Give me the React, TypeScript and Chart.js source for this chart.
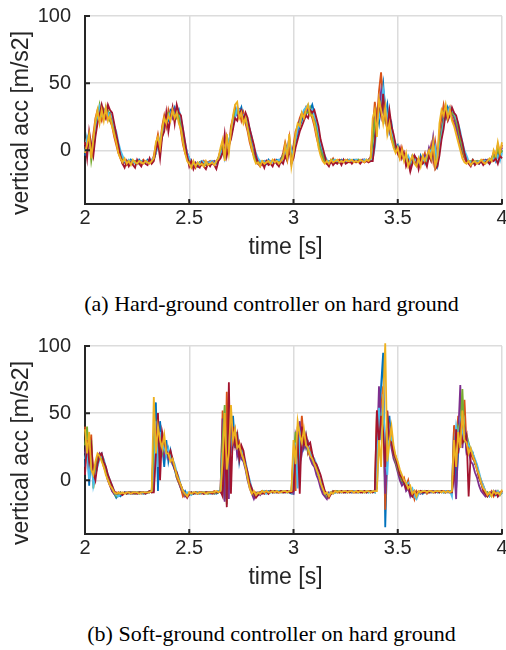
import React, { useEffect, useRef } from "react";
import { Chart, registerables } from "chart.js";

Chart.register(...registerables);

// ---------- axes ----------
const X_TICKS = [2, 2.5, 3, 3.5, 4];
const Y_TICKS = [0, 50, 100];
const X_MIN = 2;
const X_MAX = 4;
const Y_MIN = -40;
const Y_MAX = 100;
const SAMPLE_COUNT = 201; // 2.00 s ... 4.00 s every 10 ms
const TIME = Array.from({ length: SAMPLE_COUNT }, (_, i) => Math.round(200 + i) / 100);

const X_LABEL = "time [s]";
const Y_LABEL = "vertical acc [m/s2]";
const CAPTION_A = "(a) Hard-ground controller on hard ground";
const CAPTION_B = "(b) Soft-ground controller on hard ground";

// MATLAB default colour order (drawn back to front)
const SERIES_NAMES = ["blue", "orange", "purple", "green", "lightblue", "red", "yellow"];
const SERIES_COLORS = ["#0072BD", "#D95319", "#7E2F8E", "#77AC30", "#4DBEEE", "#A2142F", "#EDB120"];

// ---------- (a) hard-ground controller ----------
const HARD_BLUE = [
  -4, 6, 10, 2, 0, 14, 24, 28, 30, 26,
  32, 26, 28, 24, 16, 10, 4, -2, -6, -9,
  -8, -10, -7, -9, -8, -10, -7, -9, -8, -9,
  -7, -9, -8, -6, -2, 6, 2, 10, 18, 24,
  22, 30, 28, 32, 26, 30, 22, 12, 4, -2,
  -6, -9, -11, -10, -12, -9, -8, -11, -10, -9,
  -11, -8, -9, -10, -7, -4, 0, -6, 4, 6,
  10, 18, 26, 30, 28, 32, 24, 26, 20, 14,
  8, 0, -4, -8, -10, -9, -8, -10, -7, -9,
  -8, -9, -7, -8, -9, -5, 0, -4, 4, -6,
  -2, 6, 12, 18, 22, 28, 26, 32, 30, 34,
  28, 20, 10, 2, -2, -6, -8, -10, -7, -8,
  -8, -9, -8, -7, -8, -9, -7, -8, -8, -7,
  -8, -7, -8, -8, -7, -8, -7, -8, -6, 10,
  28, 20, 40, 50, 26, 34, 14, 20, 8, 2,
  4, -2, 0, -6, -4, -8, -10, -4, -6, -10,
  -12, -4, -8, -6, -9, 0, -4, 2, -8, -12,
  2, 12, 28, 24, 32, 28, 30, 26, 22, 16,
  10, 4, -2, -6, -9, -10, -7, -9, -8, -10,
  -8, -9, -7, -8, -10, -6, -4, -8, -2, -6,
  0,
];
const HARD_ORANGE = [
  4, 10, 6, 0, 12, 24, 30, 26, 22, 30,
  24, 28, 22, 18, 10, 4, -2, -6, -10, -8,
  -11, -9, -8, -10, -9, -8, -10, -9, -7, -9,
  -8, -7, -9, -4, 4, 12, 4, 18, 26, 18,
  30, 24, 28, 22, 30, 24, 14, 4, -2, -6,
  -10, -12, -9, -13, -10, -9, -11, -8, -10, -9,
  -8, -10, -8, -9, -5, 0, 6, -2, 10, 2,
  18, 24, 32, 28, 30, 22, 28, 20, 14, 6,
  0, -4, -8, -10, -9, -11, -8, -9, -10, -8,
  -9, -7, -10, -8, -7, -2, 6, 0, 10, -4,
  4, 14, 18, 24, 28, 26, 32, 30, 28, 24,
  18, 10, 4, -2, -6, -9, -10, -8, -9, -6,
  -9, -8, -7, -8, -9, -8, -7, -9, -8, -8,
  -7, -8, -9, -7, -8, -8, -7, -5, 16, 36,
  22, 44, 58, 36, 28, 14, 24, 10, 4, 0,
  -2, -6, 2, -4, -10, -6, -14, -8, -4, -10,
  -8, -10, -6, -2, -10, -4, 4, -8, 6, -6,
  14, 24, 34, 26, 28, 32, 24, 20, 16, 10,
  4, -2, -6, -9, -8, -10, -7, -9, -8, -8,
  -9, -7, -8, -9, -7, -8, -2, -6, 2, -4,
  4,
];
const HARD_PURPLE = [
  2, 4, 8, -4, 4, 18, 26, 24, 28, 24,
  28, 24, 26, 20, 14, 8, 0, -4, -8, -9,
  -8, -9, -10, -8, -9, -8, -9, -8, -9, -8,
  -9, -8, -7, -6, 0, 8, 4, 12, 20, 22,
  26, 28, 24, 30, 26, 26, 20, 10, 2, -4,
  -8, -10, -12, -9, -11, -10, -9, -10, -11, -9,
  -9, -10, -8, -9, -7, -4, 2, -3, 6, 2,
  12, 20, 28, 26, 30, 26, 26, 22, 16, 10,
  4, -2, -6, -8, -9, -9, -8, -9, -8, -9,
  -8, -8, -9, -8, -6, -4, 2, -2, 6, -6,
  2, 10, 14, 22, 24, 26, 28, 30, 30, 26,
  22, 14, 6, 0, -4, -7, -9, -8, -8, -7,
  -8, -8, -8, -8, -8, -8, -8, -8, -8, -8,
  -8, -8, -8, -7, -7, -8, -7, -6, 12, 24,
  18, 30, 44, 28, 24, 18, 16, 8, 4, 0,
  0, -4, -2, -6, -6, -8, -12, -6, -4, -8,
  -10, -6, -8, -4, -6, 2, -2, 10, -4, -8,
  6, 16, 24, 28, 28, 26, 28, 24, 18, 12,
  6, 0, -4, -8, -8, -9, -8, -8, -9, -8,
  -8, -8, -8, -7, -8, -6, -2, -4, 4, -2,
  2,
];
const HARD_GREEN = [
  0, 2, 10, -8, 2, 16, 24, 34, 26, 30,
  26, 30, 22, 22, 16, 8, 2, -2, -7, -8,
  -9, -8, -9, -9, -8, -9, -9, -8, -9, -9,
  -8, -8, -9, -7, -2, 8, 6, 12, 22, 26,
  28, 26, 26, 28, 24, 28, 18, 8, 0, -6,
  -9, -11, -10, -12, -10, -9, -10, -9, -11, -10,
  -10, -9, -10, -9, -6, -2, 4, -4, 6, 4,
  14, 22, 30, 28, 26, 26, 24, 22, 18, 10,
  2, -4, -8, -9, -9, -8, -9, -8, -9, -9,
  -8, -9, -8, -8, -7, -4, 0, -2, 6, -8,
  0, 10, 18, 20, 26, 24, 28, 28, 32, 26,
  22, 16, 6, 0, -4, -8, -9, -8, -9, -7,
  -8, -8, -9, -8, -8, -8, -8, -7, -8, -8,
  -8, -7, -8, -8, -8, -7, -8, -7, 8, 22,
  26, 28, 36, 40, 22, 26, 18, 14, 6, 2,
  -2, -2, -4, -4, -6, -6, -10, -8, -6, -6,
  -8, -8, -6, -6, -8, -2, 0, 4, -6, -10,
  4, 14, 22, 28, 26, 28, 28, 26, 22, 16,
  8, 2, -4, -7, -9, -8, -9, -9, -8, -8,
  -8, -9, -8, -8, -8, -6, -4, -6, 2, -4,
  0,
];
const HARD_LIGHTBLUE = [
  -2, 10, 4, 2, 8, 16, 22, 32, 26, 28,
  30, 28, 24, 26, 18, 14, 6, 0, -4, -8,
  -9, -7, -9, -8, -10, -8, -9, -8, -8, -9,
  -8, -9, -7, -6, -2, 4, 8, 14, 16, 26,
  24, 28, 30, 26, 28, 30, 24, 16, 6, -2,
  -6, -8, -10, -11, -9, -10, -8, -9, -10, -9,
  -9, -8, -10, -8, -6, -2, 0, -4, 2, 8,
  12, 20, 24, 32, 30, 28, 26, 24, 22, 16,
  10, 2, -2, -6, -8, -9, -8, -9, -8, -8,
  -9, -8, -8, -7, -8, -6, -2, 2, 8, 0,
  -4, 8, 16, 20, 26, 30, 32, 34, 30, 30,
  26, 22, 14, 6, 0, -4, -7, -9, -8, -8,
  -7, -8, -9, -8, -7, -8, -8, -7, -8, -8,
  -7, -8, -8, -8, -7, -7, -8, -7, -6, 2,
  20, 24, 32, 46, 36, 24, 20, 14, 10, 4,
  2, 0, -2, -4, -8, -4, -8, -10, -6, -8,
  -10, -8, -6, -10, -4, -2, 0, -6, 2, -10,
  0, 10, 20, 26, 28, 32, 30, 28, 24, 20,
  14, 6, 0, -4, -8, -9, -10, -8, -9, -8,
  -9, -8, -8, -9, -9, -7, -6, -8, -4, -8,
  -2,
];
const HARD_RED = [
  6, -6, 14, 4, -4, 10, 20, 26, 34, 28,
  24, 34, 30, 28, 20, 12, 4, -4, -10, -13,
  -8, -12, -9, -11, -13, -7, -10, -12, -8, -10,
  -11, -6, -10, -8, 0, 6, -6, 10, 14, 28,
  14, 24, 32, 20, 34, 28, 26, 16, 6, -4,
  -12, -8, -14, -10, -12, -13, -9, -12, -14, -10,
  -12, -9, -11, -14, -8, -6, -2, 12, -4, 4,
  8, 16, 24, 22, 28, 30, 22, 28, 24, 16,
  10, 4, -4, -10, -12, -9, -13, -8, -11, -10,
  -12, -8, -10, -12, -8, -10, -4, -8, 2, -10,
  -6, 2, 8, 14, 18, 22, 26, 24, 30, 28,
  30, 24, 18, 8, 2, -4, -10, -12, -8, -11,
  -9, -10, -8, -11, -7, -10, -9, -8, -10, -8,
  -9, -8, -10, -8, -9, -8, -9, -8, -8, 6,
  24, 36, 26, 42, 24, 16, 30, 18, 12, 4,
  -2, 2, -6, -2, -12, -8, -16, -10, -4, -6,
  -14, -6, -10, -8, -12, -4, -8, 0, -14, -12,
  -4, 8, 16, 28, 22, 26, 32, 28, 26, 20,
  12, 6, -2, -8, -10, -12, -8, -11, -9, -10,
  -8, -11, -9, -8, -10, -7, -8, -6, -10, -4,
  -6,
];
const HARD_YELLOW = [
  -2, 4, 12, -6, 8, 22, 30, 20, 30, 22,
  32, 22, 26, 18, 12, 6, -2, -6, -9, -6,
  -10, -8, -11, -7, -9, -10, -8, -9, -10, -8,
  -9, -10, -8, -6, 6, 10, 2, 16, 24, 20,
  26, 22, 30, 24, 28, 20, 16, 6, -2, -8,
  -10, -13, -8, -12, -9, -11, -10, -12, -8, -11,
  -10, -9, -11, -8, -6, 2, 8, -8, 12, -2,
  14, 26, 34, 36, 24, 28, 20, 24, 16, 8,
  2, -6, -10, -9, -12, -8, -10, -9, -8, -10,
  -7, -9, -8, -10, -8, -6, 4, -6, 12, -12,
  -2, 12, 20, 18, 28, 24, 30, 34, 26, 26,
  20, 12, 2, -4, -8, -10, -8, -10, -7, -9,
  -8, -7, -9, -8, -9, -7, -8, -8, -7, -9,
  -8, -9, -7, -8, -9, -7, -8, -6, 24, 30,
  10, 38, 30, 20, 32, 12, 20, 8, 2, -2,
  2, -6, 0, -8, -2, -12, -8, -4, -10, -12,
  -6, -12, -4, -8, -4, 0, -6, 6, -12, -6,
  20, 30, 26, 34, 24, 30, 22, 18, 12, 6,
  0, -6, -9, -10, -8, -11, -9, -8, -10, -9,
  -7, -9, -10, -8, -6, -8, 0, -4, 6, -2,
  6,
];

// ---------- (b) soft-ground controller ----------
const SOFT_BLUE = [
  10, 36, -4, 22, 2, 4, 12, 18, 20, 14,
  8, 2, -2, -6, -10, -13, -11, -12, -10, -9,
  -10, -9, -10, -9, -10, -9, -10, -9, -9, -10,
  -9, -9, -8, 30, 58, -8, 44, 26, 10, 30,
  14, 22, 12, 8, 2, -2, -6, -10, -8, -11,
  -10, -9, -10, -9, -9, -10, -9, -10, -9, -9,
  -10, -9, -9, -10, -9, -8, 10, -14, 40, 20,
  30, 48, 24, 36, 14, 24, 16, 10, 4, -4,
  -8, -12, -10, -11, -9, -8, -10, -9, -8, -9,
  -8, -9, -9, -8, -9, -9, -8, -9, -9, -10,
  -10, 20, 32, 6, 36, 24, 30, 20, 22, 14,
  12, 6, 4, -2, -8, -10, -13, -10, -10, -8,
  -9, -8, -9, -9, -8, -9, -9, -8, -9, -8,
  -9, -9, -8, -9, -8, -9, -9, -8, -9, -8,
  -6, 36, 70, 95, -35, 20, 48, 26, 22, 14,
  8, 4, -2, 0, -6, -4, -8, -12, -10, -9,
  -9, -8, -10, -8, -9, -9, -8, -9, -8, -9,
  -9, -8, -9, -9, -8, -8, -8, 40, -6, 20,
  34, 30, 38, 22, 26, 18, 20, 12, 10, 4,
  -2, -6, -10, -12, -9, -10, -8, -11, -9, -10,
  -9,
];
const SOFT_ORANGE = [
  40, 30, 20, 34, -2, 10, 18, 20, 16, 10,
  6, 0, -4, -8, -10, -9, -11, -9, -10, -9,
  -9, -10, -9, -9, -10, -9, -9, -10, -9, -9,
  -9, -8, -9, -8, 36, 20, 30, 34, 24, 20,
  22, 18, 14, 10, 2, -2, -6, -12, -10, -12,
  -9, -10, -9, -10, -9, -9, -10, -9, -9, -10,
  -9, -9, -8, -9, -8, -9, 52, -8, 66, 10,
  40, 30, 34, 22, 28, 20, 18, 10, 4, -4,
  -8, -12, -9, -10, -9, -8, -10, -9, -9, -8,
  -9, -8, -9, -9, -8, -9, -8, -8, -9, -8,
  20, -8, 40, 26, 48, 30, 32, 20, 24, 18,
  14, 10, 6, 0, -6, -10, -12, -10, -9, -8,
  -9, -8, -9, -8, -9, -8, -9, -8, -9, -9,
  -8, -9, -8, -9, -8, -9, -8, -9, -8, -8,
  52, 40, 54, 70, -22, 26, 40, 34, 22, 18,
  12, 6, 0, 2, -4, 0, -10, -8, -14, -8,
  -10, -8, -9, -8, -10, -8, -9, -8, -9, -8,
  -8, -9, -8, -9, -8, -8, -9, 41, 30, 48,
  34, 40, 60, 26, 24, 22, 16, 14, 10, 4,
  0, -4, -8, -12, -10, -8, -12, -9, -11, -10,
  -8,
];
const SOFT_PURPLE = [
  20, 28, 4, 14, 0, 6, 14, 20, 18, 12,
  6, 0, -4, -8, -10, -11, -10, -9, -10, -9,
  -9, -9, -10, -9, -9, -10, -9, -9, -10, -9,
  -9, -9, -8, 12, 30, 36, 20, 28, 18, 24,
  16, 18, 12, 10, 4, 0, -6, -8, -12, -10,
  -11, -9, -10, -9, -10, -9, -9, -10, -9, -9,
  -9, -9, -10, -9, -8, -8, 46, -16, 30, -14,
  50, 26, 36, 18, 24, 16, 14, 8, 0, -6,
  -10, -14, -10, -9, -11, -9, -8, -9, -10, -8,
  -9, -9, -8, -9, -8, -8, -9, -8, -8, -9,
  -10, 34, 28, 44, 20, 30, 24, 28, 16, 12,
  10, 4, 0, -6, -10, -12, -14, -9, -10, -9,
  -8, -9, -8, -9, -9, -8, -9, -8, -9, -8,
  -9, -8, -9, -8, -9, -9, -8, -9, -8, -8,
  20, 70, 40, 60, -10, 20, 36, 24, 16, 12,
  6, 0, -4, -2, -8, -6, -12, -8, -10, -9,
  -9, -10, -8, -9, -8, -9, -9, -8, -9, -8,
  -9, -8, -9, -8, -9, -9, -8, 10, -14, 34,
  71, 24, 40, 20, 22, 14, 12, 6, 2, -4,
  -8, -10, -12, -9, -11, -9, -10, -8, -12, -9,
  -10,
];
const SOFT_GREEN = [
  26, 40, 8, 30, -6, 6, 14, 18, 16, 12,
  6, 2, -2, -6, -9, -12, -10, -9, -10, -9,
  -10, -9, -9, -9, -10, -9, -9, -9, -10, -9,
  -9, -9, -8, 24, 40, 26, 32, 20, 26, 22,
  18, 20, 14, 10, 4, 0, -4, -8, -11, -10,
  -10, -9, -10, -9, -9, -10, -9, -9, -9, -10,
  -9, -9, -10, -9, -9, -8, 30, 56, -18, 40,
  24, 34, 30, 26, 22, 20, 16, 10, 2, -4,
  -8, -11, -10, -10, -9, -9, -8, -9, -9, -8,
  -9, -9, -8, -9, -8, -9, -8, -9, -8, -9,
  16, 36, 20, 30, 34, 28, 30, 22, 20, 16,
  14, 10, 4, 0, -6, -9, -12, -10, -9, -9,
  -9, -8, -9, -8, -9, -9, -8, -9, -8, -9,
  -8, -9, -8, -9, -9, -8, -9, -8, -8, -9,
  30, 52, 36, 56, 16, 30, 34, 28, 20, 14,
  8, 4, 0, -2, -4, -6, -8, -10, -8, -10,
  -9, -9, -8, -9, -8, -9, -8, -9, -8, -9,
  -9, -8, -9, -9, -8, -9, -8, 18, 26, 40,
  36, 68, 30, 34, 28, 22, 20, 14, 10, 2,
  -2, -6, -10, -9, -12, -10, -9, -10, -8, -11,
  -9,
];
const SOFT_LIGHTBLUE = [
  16, 24, 0, 20, -4, 4, 10, 16, 18, 16,
  10, 4, 0, -4, -8, -11, -12, -10, -10, -9,
  -9, -10, -9, -10, -9, -9, -10, -9, -10, -9,
  -9, -8, -9, -8, 44, 10, 36, 22, 26, 18,
  24, 16, 16, 12, 6, 2, -4, -8, -10, -9,
  -10, -11, -9, -10, -9, -10, -9, -9, -10, -9,
  -9, -10, -9, -9, -8, -9, 20, 30, -10, 44,
  20, 36, 28, 26, 20, 22, 18, 14, 6, 0,
  -6, -10, -12, -9, -10, -9, -8, -10, -9, -9,
  -9, -8, -9, -8, -9, -8, -9, -9, -8, -9,
  10, 28, -6, 36, 30, 26, 34, 24, 20, 18,
  16, 12, 8, 2, -4, -8, -11, -10, -9, -10,
  -9, -9, -8, -9, -8, -9, -8, -9, -9, -8,
  -8, -9, -9, -8, -9, -8, -9, -9, -8, -9,
  12, 54, 30, 64, 20, 4, 38, 30, 24, 16,
  10, 6, 2, 0, -4, -2, -8, -6, -12, -14,
  -10, -9, -8, -9, -9, -8, -9, -9, -8, -9,
  -8, -9, -9, -8, -9, -8, -12, 20, 40, 30,
  44, 36, 30, 32, 26, 24, 20, 16, 12, 6,
  0, -4, -8, -10, -12, -9, -10, -9, -8, -11,
  -9,
];
const SOFT_RED = [
  4, 30, 14, 26, 6, 0, 12, 18, 20, 14,
  10, 4, 0, -4, -8, -10, -9, -10, -11, -9,
  -10, -9, -9, -10, -9, -10, -9, -9, -9, -10,
  -9, -8, -9, -9, 20, 50, 0, 36, 28, 22,
  18, 22, 16, 8, 6, 0, -4, -8, -10, -13,
  -10, -9, -10, -9, -10, -9, -9, -10, -9, -9,
  -9, -10, -9, -9, -9, -8, -12, 40, -20, 73,
  -10, 40, 26, 34, 16, 26, 22, 12, 6, -2,
  -6, -10, -13, -11, -9, -10, -9, -8, -10, -8,
  -9, -8, -9, -9, -8, -9, -9, -8, -9, -9,
  -8, 22, 30, -10, 40, 26, 34, 26, 28, 20,
  14, 12, 8, 4, -2, -8, -10, -13, -10, -9,
  -8, -9, -9, -8, -9, -9, -8, -9, -8, -9,
  -9, -8, -9, -9, -8, -9, -8, -8, -9, -8,
  52, 26, 48, 36, 10, 52, 30, 28, 20, 16,
  10, 4, 2, -2, -6, -4, -10, -12, -8, -10,
  -9, -8, -9, -9, -8, -9, -8, -9, -9, -8,
  -9, -8, -8, -9, -8, -9, -9, 4, 38, 20,
  40, 28, 30, 34, -12, 20, 18, 14, 8, 2,
  -2, -8, -10, -12, -10, -9, -11, -9, -12, -10,
  -8,
];
const SOFT_YELLOW = [
  38, 20, 36, 8, 4, 14, 20, 18, 14, 10,
  4, 0, -4, -6, -9, -10, -9, -10, -9, -10,
  -9, -9, -10, -9, -9, -9, -10, -9, -9, -9,
  -9, -9, -8, 62, 20, 40, 30, 24, 34, 20,
  20, 14, 16, 10, 4, 0, -4, -8, -10, -12,
  -9, -10, -9, -9, -10, -9, -9, -9, -10, -9,
  -9, -9, -9, -8, -9, -8, 14, 50, 8, 20,
  56, 30, 38, 24, 26, 20, 16, 10, 2, -6,
  -10, -8, -11, -9, -10, -8, -9, -8, -9, -9,
  -8, -9, -8, -9, -9, -8, -8, -9, -8, -8,
  30, 12, 44, 34, 28, 38, 26, 24, 18, 16,
  12, 8, 4, -2, -6, -10, -9, -12, -9, -10,
  -8, -9, -8, -9, -8, -8, -9, -8, -8, -9,
  -8, -9, -8, -8, -9, -8, -8, -9, -8, -8,
  -8, 30, 10, 60, 102, 14, 28, 40, 26, 18,
  14, 8, 4, 0, -2, -6, -4, -10, -8, -12,
  -8, -9, -8, -8, -9, -8, -8, -9, -8, -8,
  -8, -9, -8, -9, -8, -9, -8, 30, 10, 36,
  24, 52, 30, 28, 20, 24, 18, 14, 8, 4,
  -2, -6, -8, -11, -9, -12, -8, -10, -9, -11,
  -7,
];

const HARD_SERIES = [HARD_BLUE, HARD_ORANGE, HARD_PURPLE, HARD_GREEN, HARD_LIGHTBLUE, HARD_RED, HARD_YELLOW];
const SOFT_SERIES = [SOFT_BLUE, SOFT_ORANGE, SOFT_PURPLE, SOFT_GREEN, SOFT_LIGHTBLUE, SOFT_RED, SOFT_YELLOW];

// ---------- style ----------
const AXIS_COLOR = "#262626";
const GRID_COLOR = "#dcdcdc";
const SANS = "'Liberation Sans', Arial, Helvetica, sans-serif";
const SERIF = "'Liberation Serif', 'Times New Roman', serif";
const CANVAS_W = 506;
const CANVAS_H = 270;

const inwardTicks = {
  id: "inwardTicks",
  afterDatasetsDraw(chart: any) {
    const { ctx, chartArea, scales } = chart;
    ctx.save();
    ctx.strokeStyle = AXIS_COLOR;
    ctx.lineWidth = 2;
    ctx.beginPath();
    X_TICKS.forEach((v) => {
      const x = scales.x.getPixelForValue(v);
      ctx.moveTo(x, chartArea.bottom);
      ctx.lineTo(x, chartArea.bottom - 5);
    });
    Y_TICKS.forEach((v) => {
      const y = scales.y.getPixelForValue(v);
      ctx.moveTo(chartArea.left, y);
      ctx.lineTo(chartArea.left + 5, y);
    });
    ctx.stroke();
    ctx.restore();
  },
};

// axis titles placed the way MATLAB places them
const axisTitles = {
  id: "axisTitles",
  afterDraw(chart: any) {
    const { ctx, chartArea } = chart;
    ctx.save();
    ctx.fillStyle = AXIS_COLOR;
    ctx.font = `23px ${SANS}`;
    ctx.textAlign = "center";
    ctx.textBaseline = "alphabetic";
    const midX = (chartArea.left + chartArea.right) / 2;
    ctx.fillText(X_LABEL, midX - 8, chartArea.bottom + 50);
    const midY = (chartArea.top + chartArea.bottom) / 2;
    ctx.translate(28, midY + 13);
    ctx.rotate(-Math.PI / 2);
    ctx.fillText(Y_LABEL, 0, 0);
    ctx.restore();
  },
};

function AccPlot({ series, top }: { series: number[][]; top: number }) {
  const ref = useRef<HTMLCanvasElement>(null);
  useEffect(() => {
    if (!ref.current) return;
    const datasets = series.map((vals, k) => ({
      label: SERIES_NAMES[k],
      data: vals.map((v, i) => ({ x: TIME[i], y: v })),
      borderColor: SERIES_COLORS[k],
      backgroundColor: SERIES_COLORS[k],
      borderWidth: 1.8,
      pointRadius: 0,
      tension: 0,
      fill: false,
      clip: false as any,
      order: series.length - k,
    }));
    const chart = new Chart(ref.current, {
      type: "line",
      data: { datasets },
      plugins: [inwardTicks, axisTitles],
      options: {
        animation: false,
        responsive: false,
        devicePixelRatio: 1,
        parsing: false,
        normalized: true,
        layout: { autoPadding: false, padding: { left: 0, right: 4, top: 16, bottom: 0 } } as any,
        plugins: { legend: { display: false }, tooltip: { enabled: false }, title: { display: false } },
        scales: {
          x: {
            type: "linear",
            min: X_MIN,
            max: X_MAX,
            afterBuildTicks: (s: any) => {
              s.ticks = X_TICKS.map((v) => ({ value: v }));
            },
            afterFit: (s: any) => {
              s.height = 66;
              s.paddingLeft = 0;
              s.paddingRight = 0;
              s.paddingTop = 0;
              s.paddingBottom = 0;
            },
            grid: { color: GRID_COLOR, lineWidth: 1.5, drawTicks: false },
            border: { color: AXIS_COLOR, width: 2 },
            ticks: {
              color: AXIS_COLOR,
              font: { family: SANS, size: 20 },
              padding: 2,
              maxRotation: 0,
              autoSkip: false,
              callback: (v: any) => String(v),
            },
            title: { display: false },
          },
          y: {
            type: "linear",
            min: Y_MIN,
            max: Y_MAX,
            afterBuildTicks: (s: any) => {
              s.ticks = Y_TICKS.map((v) => ({ value: v }));
            },
            afterFit: (s: any) => {
              s.width = 85;
              s.paddingLeft = 0;
              s.paddingRight = 0;
              s.paddingTop = 0;
              s.paddingBottom = 0;
            },
            grid: { color: GRID_COLOR, lineWidth: 1.5, drawTicks: false },
            border: { color: AXIS_COLOR, width: 2 },
            ticks: {
              color: AXIS_COLOR,
              font: { family: SANS, size: 20 },
              padding: 14,
              autoSkip: false,
              callback: (v: any) => String(v),
            },
            title: { display: false },
          },
        },
      } as any,
    });
    return () => chart.destroy();
  }, [series]);
  return (
    <canvas
      ref={ref}
      width={CANVAS_W}
      height={CANVAS_H}
      style={{ position: "absolute", left: 0, top, width: CANVAS_W, height: CANVAS_H }}
    />
  );
}

const captionStyle = (top: number): React.CSSProperties => ({
  position: "absolute",
  left: 0,
  top,
  width: 543,
  textAlign: "center",
  fontFamily: SERIF,
  fontSize: 22,
  lineHeight: "26px",
  color: "#000",
  whiteSpace: "nowrap",
});

export default function App() {
  return (
    <div style={{ position: "absolute", left: 0, top: 0, width: 506, height: 650, background: "#fff", overflow: "hidden" }}>
      <AccPlot series={HARD_SERIES} top={0} />
      <div style={captionStyle(291)}>{CAPTION_A}</div>
      <AccPlot series={SOFT_SERIES} top={330} />
      <div style={captionStyle(621)}>{CAPTION_B}</div>
    </div>
  );
}
